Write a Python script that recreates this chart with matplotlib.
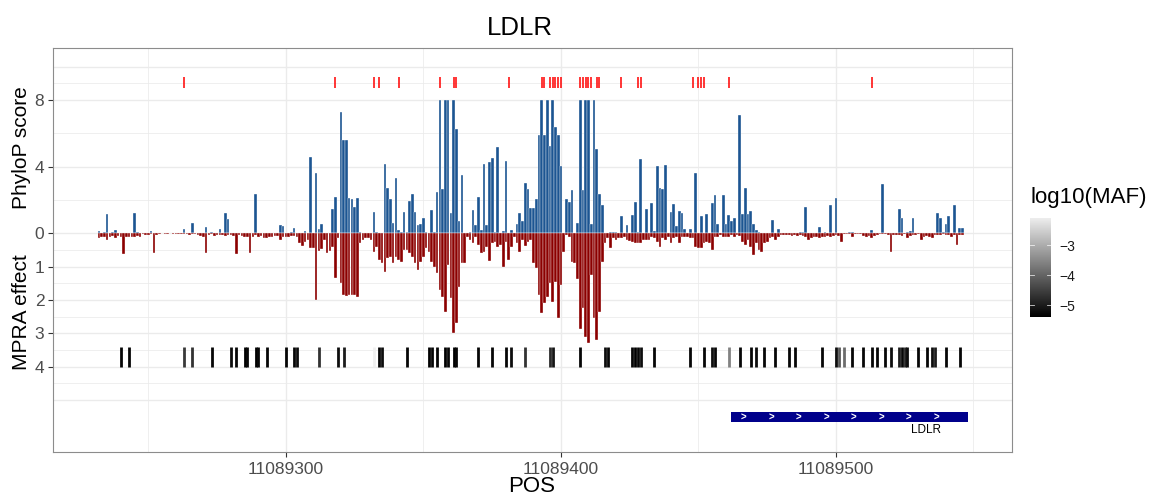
import numpy as np
import matplotlib.pyplot as plt
from matplotlib.colors import LinearSegmentedColormap, Normalize
from matplotlib.patches import Rectangle

plt.rcParams['font.family'] = ['Liberation Sans', 'DejaVu Sans']

# Posiciones consecutivas a partir de la primera base
pos_start = 11089232

# PhyloP por posicion (recortado en 8)
phylop = [
    0.12, 0, 0.05, 1.15, 0, 0.05, 0.18, 0, 0, 0, 0, 0, 0, 1.2, 0.05,
    0, 0, 0, 0, 0.15, 0, 0, 0, 0, 0, 0, 0, 0, 0, 0,
    0, 0.28, 0, 0, 0.64, 0, 0, 0, 0, 0.36, 0, 0.1, 0, 0, 0.26,
    0, 1.2, 0.84, 0, 0, 0, 0, 0, 0, 0, 0, 0, 2.36, 0, 0,
    0, 0, 0, 0, 0, 0, 0.5, 0.44, 0, 0, 0.05, 0.3, 0, 0, 0,
    0.14, 0, 4.6, 0, 3.64, 0.28, 0.58, 0, 0, 0, 1.48, 2.18, 0, 7.3, 5.58,
    5.6, 2.14, 2.04, 1.6, 2.14, 0.05, 0, 0, 0, 0, 1.28, 0.05, 0, 0, 4.18,
    2.7, 2.04, 0.64, 3.32, 0.18, 0.1, 1.3, 0.1, 1.96, 2.38, 1.3, 0.5, 0.56, 0.92, 0.05,
    0, 1.38, 0.05, 2.48, 8, 2.64, 8, 8, 1.2, 8, 6.28, 0.74, 3.48, 0, 0,
    0.05, 1.4, 0.5, 2.2, 0.18, 4.18, 0.5, 4.3, 4.54, 0.05, 5.18, 0, 0.14, 4.32, 0,
    0.22, 0, 0.58, 1.24, 0.74, 3.0, 2.64, 1.54, 1.54, 2.04, 5.9, 8, 5.9, 8, 5.24,
    8, 6.4, 5.88, 4.04, 0, 2.04, 1.88, 2.58, 0, 0.64, 8, 2.58, 8, 8, 0.54,
    8, 5.04, 2.34, 1.68, 0, 0, 0.1, 0.05, 0.1, 0, 1.04, 0, 0.52, 0, 1.1,
    1.88, 0.05, 4.48, 0, 1.48, 0, 1.84, 0.16, 4.04, 2.7, 2.64, 4.1, 0, 1.28, 1.74,
    0.44, 1.34, 1.2, 0.28, 0, 0.28, 0, 3.6, 0, 1.04, 0, 1.16, 0, 1.84, 2.28,
    0.54, 0, 2.3, 0.58, 1.1, 0.74, 0.9, 0, 7.1, 1.14, 2.74, 1.14, 1.34, 0.58, 0.2,
    0.05, 0, 0, 0, 0, 0.78, 0, 0.24, 0, 0, 0, 0, 0, 0, 0,
    0.05, 0.05, 1.6, 0, 0, 0, 0, 0.38, 0, 0.1, 0, 1.72, 0, 2.14, 0,
    0, 0, 0, 0.05, 0.05, 0.03, 0, 0, 0, 0, 0, 0.18, 0, 0, 0,
    2.94, 0, 0, 0, 0, 0, 1.48, 0.9, 0, 0.05, 0.14, 0.94, 0, 0, 0,
    0, 0, 0, 0, 0, 1.24, 0.9, 0.05, 0.54, 1.04, 0, 1.68, 0, 0.34, 0.34,
]

# Efecto MPRA por posicion (valor absoluto)
mpra = [
    0.15, 0.12, 0.1, 0.2, 0.12, 0.08, 0.15, 0.08, 0.1, 0.63, 0.1, 0.1, 0.12, 0.1, 0.08,
    0.1, 0.03, 0.05, 0.05, 0.03, 0.58, 0.05, 0.02, 0, 0.03, 0.02, 0, 0.03, 0.02, 0.02,
    0.03, 0.03, 0.02, 0.05, 0.03, 0.02, 0.05, 0.08, 0.12, 0.58, 0.05, 0.03, 0.08, 0.06, 0.05,
    0.05, 0.08, 0.06, 0.05, 0.08, 0.63, 0.05, 0.08, 0.1, 0.12, 0.59, 0.1, 0.05, 0.12, 0.08,
    0.15, 0.15, 0.12, 0.1, 0.08, 0.08, 0.2, 0.1, 0.1, 0.12, 0.08, 0.08, 0.12, 0.3, 0.38,
    0.25, 0.2, 0.45, 0.45, 2.0, 0.52, 0.48, 0.2, 0.6, 0.52, 0.4, 1.33, 0.15, 1.5, 1.86,
    1.88, 1.86, 1.86, 1.85, 1.92, 0.3, 0.2, 0.15, 0.15, 0.2, 0.55, 0.4, 0.8, 0.9, 1.15,
    0.75, 0.7, 0.88, 0.7, 0.8, 0.85, 0.5, 0.5, 0.58, 0.72, 0.88, 1.1, 0.85, 0.72, 0.45,
    0.55, 0.85, 1.0, 1.18, 1.7, 1.9, 2.35, 0.95, 1.95, 3.0, 2.7, 1.6, 0.9, 0.9, 0.1,
    0.2, 0.3, 0.12, 0.35, 0.6, 0.55, 0.4, 0.82, 0.28, 0.25, 0.42, 0.35, 1.0, 0.25, 0.8,
    0.42, 0.1, 0.28, 0.55, 0.2, 0.38, 0.25, 0.2, 0.9, 1.05, 1.85, 2.4, 2.1, 1.9, 1.48,
    2.05, 1.45, 2.55, 1.55, 0.55, 0.05, 0.1, 0.85, 0.9, 1.38, 2.88, 2.25, 3.1, 3.3, 1.25,
    2.55, 3.2, 2.35, 0.85, 0.3, 0.15, 0.45, 0.15, 0.2, 0.15, 0.15, 0.1, 0.2, 0.22, 0.25,
    0.3, 0.28, 0.3, 0.2, 0.2, 0.2, 0.1, 0.15, 0.25, 0.4, 0.15, 0.2, 0.1, 0.3, 0.15,
    0.1, 0.3, 0.1, 0.1, 0.1, 0.15, 0.15, 0.4, 0.45, 0.45, 0.3, 0.25, 0.3, 0.5, 0.1,
    0.1, 0.05, 0.1, 0.1, 0.1, 0.05, 0.1, 0.05, 0.08, 0.25, 0.35, 0.2, 0.4, 0.65, 0.3,
    0.5, 0.55, 0.3, 0.25, 0.15, 0.1, 0.2, 0.1, 0.05, 0.05, 0.05, 0.05, 0.08, 0.05, 0.08,
    0.05, 0.08, 0.12, 0.2, 0.15, 0.12, 0.12, 0.15, 0.12, 0.1, 0.08, 0.1, 0.08, 0.05, 0.08,
    0.25, 0.03, 0.02, 0.03, 0.12, 0.02, 0.02, 0.03, 0.08, 0.1, 0.08, 0.15, 0.08, 0.05, 0.03,
    0.02, 0.03, 0.05, 0.55, 0.05, 0.05, 0.05, 0.08, 0.03, 0.15, 0.08, 0.05, 0.05, 0.03, 0.2,
    0.1, 0.08, 0.1, 0.15, 0.05, 0.05, 0.05, 0.03, 0.05, 0.05, 0.1, 0.05, 0.35, 0.05, 0.05,
]

# Variantes significativas (desplazamiento desde pos_start)
sig_offsets = [31, 86, 100, 102, 109, 124, 129, 130, 149, 161, 162, 164, 165, 166,
               167, 168, 175, 176, 177, 178, 179, 181, 182, 190, 196, 197, 216, 218,
               219, 220, 229, 281]

# Variantes con frecuencia alelica y su log10(MAF)
maf_offsets = [8, 11, 31, 34, 41, 48, 50, 53, 54, 57, 58, 61, 68, 71, 72, 80, 87, 89,
               100, 102, 103, 112, 120, 121, 123, 126, 127, 129, 130, 138, 143, 148,
               150, 155, 164, 165, 175, 184, 185, 194, 195, 196, 197, 202, 215, 220,
               223, 224, 229, 233, 237, 239, 242, 246, 251, 253, 263, 268, 269, 271,
               274, 278, 281, 283, 286, 288, 291, 292, 293, 294, 298, 301, 303, 304,
               308, 313]
maf_log10 = [-5.3, -5.3, -4.6, -4.7, -5.3, -5.2, -5.3, -5.39, -5.3, -5.39, -5.3, -5.3,
             -5.3, -5.3, -5.2, -4.7, -5.2, -5.0, -2.08, -5.3, -5.2, -5.3, -5.39, -5.3,
             -5.3, -5.39, -5.3, -5.39, -5.3, -5.3, -5.3, -5.3, -5.2, -4.7, -4.8, -5.1,
             -5.3, -5.2, -5.3, -5.3, -5.39, -5.3, -5.2, -5.3, -5.3, -5.3, -5.2, -5.3,
             -3.6, -5.3, -5.3, -5.2, -5.3, -5.3, -5.3, -5.3, -5.3, -5.2, -4.2, -3.9,
             -5.3, -5.3, -5.3, -5.3, -5.3, -5.2, -5.0, -5.3, -4.9, -5.2, -5.3, -5.3,
             -5.2, -5.0, -5.3, -5.3]

# Gen
gene_name = "LDLR"
gene_start, gene_end = 11089462, 11089548
gene_arrows = [11089466.5, 11089476.5, 11089486.5, 11089496.5,
               11089506.5, 11089516.5, 11089526.5, 11089536.5]

pos = pos_start + np.arange(len(phylop))
sig_pos = pos_start + np.array(sig_offsets)
maf_pos = pos_start + np.array(maf_offsets)

W, H = 1153, 495
fig = plt.figure(figsize=(W / 100, H / 100), dpi=100)
ax = fig.add_axes([52.7 / W, 1 - 452 / H, (1012 - 52.7) / W, (452 - 48.3) / H])

# rejilla al estilo theme_bw
for y in [-10, -8, -6, -4, -2, 0, 4, 8, 10]:
    ax.axhline(y, color='#ebebeb', lw=1.0, zorder=0)
for y in [-9, -7, -5, -3, -1, 2, 6, 9]:
    ax.axhline(y, color='#ebebeb', lw=0.55, zorder=0)
for x in [11089300, 11089400, 11089500]:
    ax.axvline(x, color='#ebebeb', lw=1.0, zorder=0)
for x in [11089250, 11089350, 11089450, 11089550]:
    ax.axvline(x, color='#ebebeb', lw=0.55, zorder=0)

# barras: PhyloP hacia arriba, MPRA hacia abajo (escala x2)
ax.bar(pos, phylop, width=0.95, color='#1c5592', edgecolor='#ffffff', linewidth=0.25, zorder=2)
ax.bar(pos, -2 * np.array(mpra), width=0.95, color='#8b0000', edgecolor='#ffffff',
       linewidth=0.25, zorder=2)

# marcas de variantes significativas
ax.vlines(sig_pos, 8.7, 9.4, color='#ff0000', lw=1.1, zorder=3)

# marcas de MAF
cmap = LinearSegmentedColormap.from_list('maf', ['#000000', '#f0f0f0'])
norm = Normalize(vmin=min(maf_log10), vmax=max(maf_log10))
ax.vlines(maf_pos, -6.8, -8.0, colors=cmap(norm(np.array(maf_log10))), lw=2.0, zorder=3)

# gen
ax.add_patch(Rectangle((gene_start, -11.35), gene_end - gene_start, 0.6,
                       facecolor='#00008b', edgecolor='none', zorder=3))
for xa in gene_arrows:
    ax.text(xa, -11.05, '>', color='white', fontsize=7, ha='center', va='center',
            fontweight='bold', zorder=4)
ax.text(11089532.7, -11.8, gene_name, fontsize=8.5, ha='center', va='center')

ax.set_xlim(11089215.2, 11089564)
ax.set_ylim(-13.12, 11.1)

ax.set_xticks([11089300, 11089400, 11089500])
ax.set_xticklabels(['11089300', '11089400', '11089500'])
ax.set_yticks([8, 4, 0, -2, -4, -6, -8])
ax.set_yticklabels(['8', '4', '0', '1', '2', '3', '4'])
ax.tick_params(axis='both', labelsize=12.5, colors='#333333', labelcolor='#4d4d4d',
               length=3.5, width=0.8)
ax.tick_params(axis='y', pad=2.5)
for sp in ax.spines.values():
    sp.set_color('#8c8c8c')
    sp.set_linewidth(0.8)

fig.text(520 / W, 1 - 28 / H, 'LDLR', ha='center', va='center', fontsize=18.5)
fig.text(532 / W, 1 - 486 / H, 'POS', ha='center', va='center', fontsize=16)
fig.text(22 / W, 1 - 148 / H, 'PhyloP score', rotation=90, ha='center', va='center', fontsize=15)
fig.text(22 / W, 1 - 312 / H, 'MPRA effect', rotation=90, ha='center', va='center', fontsize=15)

# barra de color
cax = fig.add_axes([1030 / W, 1 - 317 / H, 20.7 / W, 99.5 / H])
grad = np.linspace(norm.vmin, norm.vmax, 256).reshape(-1, 1)
cax.imshow(grad, aspect='auto', origin='lower', cmap=cmap, norm=norm,
           extent=[0, 1, norm.vmin, norm.vmax])
for t in [-5, -4, -3]:
    cax.plot([0, 0.2], [t, t], color='white', lw=0.6, alpha=0.8)
    cax.plot([0.8, 1], [t, t], color='white', lw=0.6, alpha=0.8)
cax.set_xlim(0, 1)
cax.set_ylim(norm.vmin, norm.vmax)
cax.set_xticks([])
cax.yaxis.tick_right()
cax.set_yticks([-5, -4, -3])
cax.set_yticklabels(['\u22125', '\u22124', '\u22123'])
cax.tick_params(axis='y', length=0, labelsize=10, labelcolor='#1a1a1a', pad=6)
for sp in cax.spines.values():
    sp.set_visible(False)
fig.text(1030 / W, 1 - 197 / H, 'log10(MAF)', ha='left', va='center', fontsize=16)

fig.savefig('out.png', dpi=100)
